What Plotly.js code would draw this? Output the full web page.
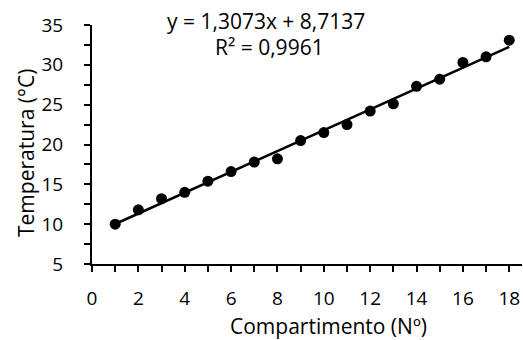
<!DOCTYPE html>
<html>
<head>
<meta charset="utf-8">
<script src="https://cdn.plot.ly/plotly-3.0.1.min.js"></script>
<style>html,body{margin:0;padding:0;background:#fff;}#chart{width:523px;height:340px;}</style>
</head>
<body>
<div id="chart"></div>
<script>
const compartimento = [1,2,3,4,5,6,7,8,9,10,11,12,13,14,15,16,17,18];
const temperatura = [10.0,11.8,13.2,14.0,15.4,16.6,17.8,18.2,20.5,21.5,22.5,24.2,25.1,27.3,28.2,30.3,31.0,33.1];
const trendSlope = 1.3073;
const trendIntercept = 8.7137;
const trendX = [1, 18];
const equationText = 'y = 1,3073x + 8,7137';
const r2Text = 'R² = 0,9961';
const xTitle = 'Compartimento (Nº)';
const yTitle = 'Temperatura (°C)';

const FONT = 'Open Sans, sans-serif';
const TXT = {family: FONT, size: 21, color: '#000'};

const traces = [
  {
    x: compartimento, y: temperatura, type: 'scatter', mode: 'markers',
    marker: {color: '#000', size: 11}, showlegend: false, hoverinfo: 'skip'
  },
  {
    x: trendX, y: trendX.map(v => trendSlope * v + trendIntercept),
    type: 'scatter', mode: 'lines', line: {color: '#000', width: 2.5},
    showlegend: false, hoverinfo: 'skip'
  }
];

const layout = {
  width: 523, height: 340,
  margin: {l: 92, r: 1, t: 25, b: 76},
  paper_bgcolor: '#fff', plot_bgcolor: '#fff',
  font: TXT,
  xaxis: {
    range: [0, 18.55], tick0: 0, dtick: 2,
    showline: true, linecolor: '#000', linewidth: 2,
    ticks: 'outside', ticklen: 6, tickwidth: 2, tickcolor: '#000',
    minor: {dtick: 1, ticks: 'outside', ticklen: 6, tickwidth: 2, tickcolor: '#000'},
    showgrid: false, zeroline: false,
    ticklabelstandoff: 10,
    tickfont: {family: FONT, size: 19, color: '#000'}
  },
  yaxis: {
    range: [5, 35], tick0: 5, dtick: 5,
    showline: true, linecolor: '#000', linewidth: 2,
    ticks: 'outside', ticklen: 6, tickwidth: 2, tickcolor: '#000',
    minor: {dtick: 2.5, ticks: 'outside', ticklen: 6, tickwidth: 2, tickcolor: '#000'},
    showgrid: false, zeroline: false,
    ticklabelstandoff: 17,
    tickfont: {family: FONT, size: 19, color: '#000'}
  },
  annotations: [
    {text: equationText, xref: 'paper', yref: 'paper', x: (266-92)/430, y: (264-21)/239,
     xanchor: 'center', yanchor: 'middle', showarrow: false, font: TXT},
    {text: r2Text, xref: 'paper', yref: 'paper', x: (269-92)/430, y: (264-47)/239,
     xanchor: 'center', yanchor: 'middle', showarrow: false, font: TXT},
    {text: xTitle, xref: 'paper', yref: 'paper', x: (328-92)/430, y: -(326-264)/239,
     xanchor: 'center', yanchor: 'middle', showarrow: false, font: TXT},
    {text: yTitle, xref: 'paper', yref: 'paper', x: -(92-26)/430, y: (264-153)/239,
     xanchor: 'center', yanchor: 'middle', textangle: -90, showarrow: false, font: TXT}
  ]
};

Plotly.newPlot('chart', traces, layout, {staticPlot: true, displayModeBar: false});
</script>
</body>
</html>
